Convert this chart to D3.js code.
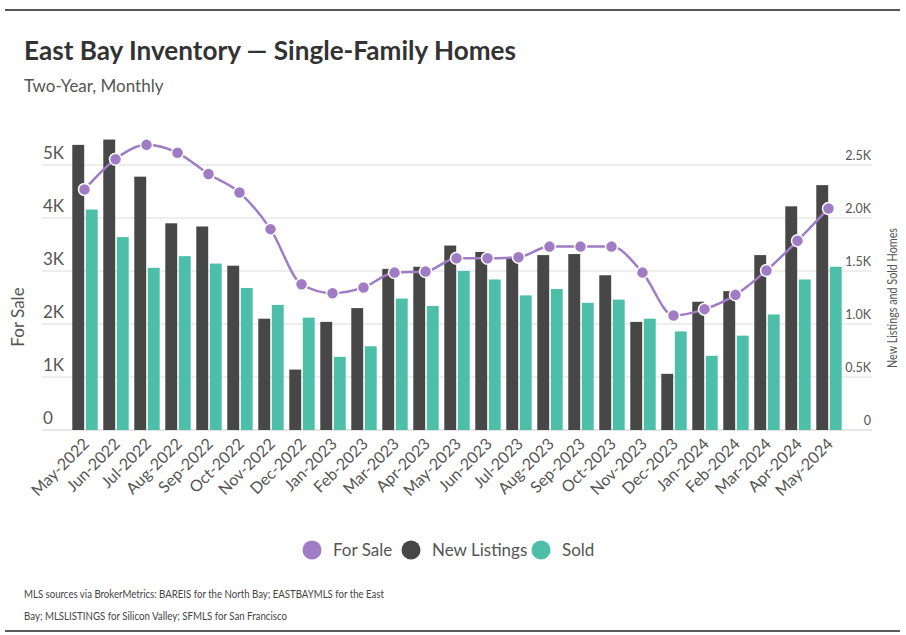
<!DOCTYPE html>
<html>
<head>
<meta charset="utf-8">
<script src="https://cdn.jsdelivr.net/npm/d3@7"></script>
<style>
  body { margin: 0; background: #fff; }
  text { font-family: Lato, "Open Sans", sans-serif; }
</style>
</head>
<body>
<svg id="chart" width="906" height="635"></svg>
<script>
// months on the x axis
let months = ["May-2022","Jun-2022","Jul-2022","Aug-2022","Sep-2022","Oct-2022","Nov-2022","Dec-2022",
  "Jan-2023","Feb-2023","Mar-2023","Apr-2023","May-2023","Jun-2023","Jul-2023","Aug-2023","Sep-2023",
  "Oct-2023","Nov-2023","Dec-2023","Jan-2024","Feb-2024","Mar-2024","Apr-2024","May-2024"];

// for sale (left axis)
let forSale = [4540,5110,5380,5230,4830,4480,3790,2750,2580,2690,2970,2990,3240,3240,3260,3460,3460,
  3460,2970,2160,2280,2550,3010,3570,4180];

// new listings and sold (right axis)
let newListings = [2690,2740,2390,1950,1920,1550,1050,570,1020,1150,1520,1540,1740,1680,1630,1650,1660,
  1460,1020,530,1210,1310,1650,2110,2310];
let sold = [2080,1820,1530,1640,1570,1340,1180,1060,690,790,1240,1170,1500,1420,1270,1330,1200,
  1230,1050,930,700,890,1090,1420,1540];

let leftTicks = [0,1000,2000,3000,4000,5000];
let leftTickLabels = ["0","1K","2K","3K","4K","5K"];
let rightTicks = [0,500,1000,1500,2000,2500];
let rightTickLabels = ["0","0.5K","1.0K","1.5K","2.0K","2.5K"];

let legendItems = ["For Sale","New Listings","Sold"];
let colors = {"For Sale":"#a07cc5","New Listings":"#474747","Sold":"#4dbfa8"};

function drawChart(){
    let svg = d3.select("#chart");

    // top and bottom rules
    svg.append("line").attr("x1",5).attr("x2",900).attr("y1",10).attr("y2",10)
        .style("stroke","#555").style("stroke-width",2);
    svg.append("line").attr("x1",5).attr("x2",900).attr("y1",631).attr("y2",631)
        .style("stroke","#222").style("stroke-width",1.5);

    // title
    svg.append("text").attr("x",24).attr("y",60)
        .attr("textLength",492).attr("lengthAdjust","spacingAndGlyphs")
        .style("font-size","26px").style("font-weight","bold").style("fill","#333")
        .text("East Bay Inventory \u2014 Single-Family Homes");
    svg.append("text").attr("x",24).attr("y",92)
        .style("font-size","17px").style("fill","#555")
        .text("Two-Year, Monthly");

    // scales
    let x0 = d3.scaleBand().domain(months).range([69.5,844.5]).paddingInner(0.18).paddingOuter(0.09);
    let x1 = d3.scaleBand().domain(["New Listings","Sold"]).range([0,x0.bandwidth()]).paddingInner(0.12);
    let yLeft = d3.scaleLinear().domain([0,5500]).range([430,138.5]);
    let yRight = d3.scaleLinear().domain([0,2750]).range([430,138.5]);

    // gridlines
    svg.append("g").selectAll("line")
        .data(leftTicks.slice(1))
        .join("line")
        .attr("x1",42).attr("x2",872)
        .attr("y1",d => yLeft(d)).attr("y2",d => yLeft(d))
        .style("stroke","#dcdcdc").style("stroke-width",1);
    svg.append("line").attr("x1",42).attr("x2",872).attr("y1",yLeft(0)).attr("y2",yLeft(0))
        .style("stroke","#ccc").style("stroke-width",1);

    // left tick labels sit on top of the gridlines
    svg.append("g").selectAll("text")
        .data(leftTicks)
        .join("text")
        .attr("x",43)
        .attr("y",(d,i) => yLeft(d) - 6)
        .style("font-size","17px").style("fill","#555")
        .text((d,i) => leftTickLabels[i]);

    // right tick labels
    svg.append("g").selectAll("text")
        .data(rightTicks)
        .join("text")
        .attr("x",871)
        .attr("y",d => yRight(d) - 5)
        .attr("text-anchor","end")
        .style("font-size","12.5px").style("fill","#555")
        .text((d,i) => rightTickLabels[i]);

    // axis titles
    svg.append("text")
        .attr("transform","translate(24,317) rotate(-90)")
        .attr("text-anchor","middle")
        .style("font-size","17px").style("fill","#555")
        .text("For Sale");
    svg.append("text")
        .attr("transform","translate(897,298) rotate(-90)")
        .attr("text-anchor","middle")
        .attr("textLength",140).attr("lengthAdjust","spacingAndGlyphs")
        .style("font-size","13.5px").style("fill","#555")
        .text("New Listings and Sold Homes");

    // bars
    let groups = svg.append("g").selectAll("g")
        .data(months)
        .join("g")
        .attr("transform",d => "translate(" + x0(d) + ",0)");

    groups.append("rect")
        .attr("x",x1("New Listings"))
        .attr("width",x1.bandwidth())
        .attr("y",(d,i) => yRight(newListings[i]))
        .attr("height",(d,i) => yRight(0) - yRight(newListings[i]))
        .style("fill",colors["New Listings"]);

    groups.append("rect")
        .attr("x",x1("Sold"))
        .attr("width",x1.bandwidth())
        .attr("y",(d,i) => yRight(sold[i]))
        .attr("height",(d,i) => yRight(0) - yRight(sold[i]))
        .style("fill",colors["Sold"]);

    // for sale line
    let line = d3.line()
        .x((d,i) => x0(months[i]) + x0.bandwidth()/2 - 0.5)
        .y(d => yLeft(d))
        .curve(d3.curveMonotoneX);

    svg.append("path")
        .datum(forSale)
        .attr("d",line)
        .style("fill","none")
        .style("stroke",colors["For Sale"])
        .style("stroke-width",2.5);

    svg.append("g").selectAll("circle")
        .data(forSale)
        .join("circle")
        .attr("cx",(d,i) => x0(months[i]) + x0.bandwidth()/2 - 0.5)
        .attr("cy",d => yLeft(d))
        .attr("r",6)
        .style("fill",colors["For Sale"])
        .style("stroke","#fff")
        .style("stroke-width",1.5);

    // x labels, rotated
    svg.append("g").selectAll("text")
        .data(months)
        .join("text")
        .attr("transform",d => "translate(" + (x0(d) + x0.bandwidth()/2 + 5) + ",445) rotate(-45)")
        .attr("text-anchor","end")
        .style("font-size","16px").style("fill","#555")
        .text(d => d);

    // legend
    let legendX = [312,411,541];
    let legend = svg.append("g").selectAll("g")
        .data(legendItems)
        .join("g")
        .attr("transform",(d,i) => "translate(" + legendX[i] + ",550)");
    legend.append("circle").attr("r",9.5).style("fill",d => colors[d]);
    legend.append("text").attr("x",21).attr("y",6)
        .style("font-size","17px").style("fill","#555")
        .text(d => d);

    // footer
    svg.append("text").attr("x",24).attr("y",598)
        .attr("textLength",360).attr("lengthAdjust","spacingAndGlyphs")
        .style("font-size","10.5px").style("fill","#444")
        .text("MLS sources via BrokerMetrics: BAREIS for the North Bay; EASTBAYMLS for the East");
    svg.append("text").attr("x",24).attr("y",620)
        .attr("textLength",263).attr("lengthAdjust","spacingAndGlyphs")
        .style("font-size","10.5px").style("fill","#444")
        .text("Bay; MLSLISTINGS for Silicon Valley; SFMLS for San Francisco");
}
drawChart();
</script>
</body>
</html>
